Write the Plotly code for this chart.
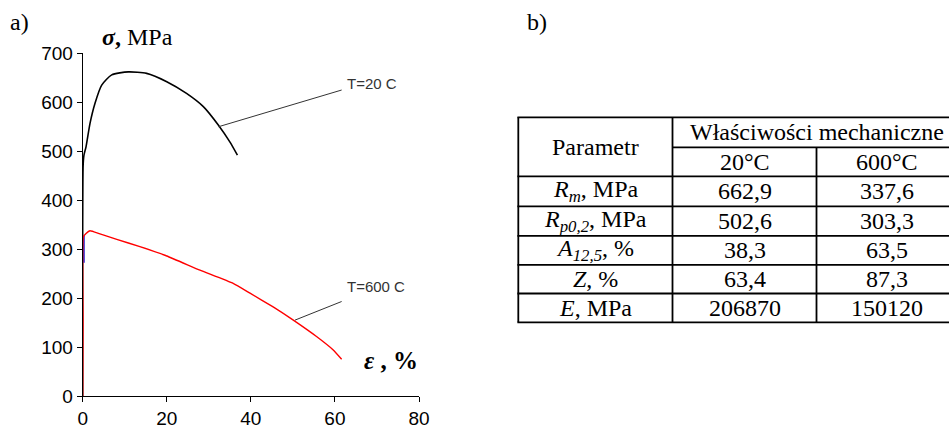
import plotly.graph_objects as go

W, H = 949, 432

# ---------------- data ----------------
strain_20 = [0, 0.1, 0.3, 0.79, 1.74, 2.93, 4.52, 6.9, 10.85, 15.2, 20.0, 24.7, 28.7, 32.3, 35.0, 36.8]
stress_20 = [0, 470, 492, 509, 557, 598, 635, 656, 662, 659, 642, 618, 591, 553, 519, 492]

strain_blue = [0.3, 0.3]
stress_blue = [272, 328]

strain_600 = [0, 0.08, 0.15, 0.8, 1.74, 4.1, 8.1, 13.6, 20.0, 27.9, 35.8, 39.8, 45.3, 50.1, 55.7, 59.6, 61.6]
stress_600 = [0, 150, 325, 332, 337.6, 331, 320, 305, 286, 257, 230, 210, 182, 155, 121, 94, 75]

label_20 = "T=20 C"
label_20_pos = (62.4, 639)
leader_20 = [(61.6, 625), (32.3, 550)]
label_600 = "T=600 C"
label_600_pos = (62.4, 223)
leader_600 = [(61.6, 193), (50.5, 155)]

x_ticks = [0, 20, 40, 60, 80]
y_ticks = [0, 100, 200, 300, 400, 500, 600, 700]

table_header_param = "Parametr"
table_header_group = "Właściwości mechaniczne"
table_temps = ["20°C", "600°C"]
table_params = ["<i>R<sub>m</sub></i>, MPa", "<i>R<sub>p0,2</sub></i>, MPa",
                "<i>A<sub>12,5</sub></i>, %", "<i>Z</i>, %", "<i>E</i>, MPa"]
values_20 = ["662,9", "502,6", "38,3", "63,4", "206870"]
values_600 = ["337,6", "303,3", "63,5", "87,3", "150120"]

# ---------------- helpers (pixel -> paper) ----------------
def px(x):
    return x / W

def py(y):
    return 1 - y / H

fig = go.Figure()
fig.add_trace(go.Scatter(x=strain_20, y=stress_20, mode="lines",
                         line=dict(color="#000000", width=1.6, shape="spline", smoothing=0.6),
                         hoverinfo="skip"))
fig.add_trace(go.Scatter(x=strain_blue, y=stress_blue, mode="lines",
                         line=dict(color="#2020d0", width=1.6), hoverinfo="skip"))
fig.add_trace(go.Scatter(x=strain_600, y=stress_600, mode="lines",
                         line=dict(color="#ff0000", width=1.4, shape="spline", smoothing=0.4),
                         hoverinfo="skip"))

x0p, x1p = 82.7, 419.0
y0p, y1p = 396.0, 53.3

axis_common = dict(showgrid=False, zeroline=False, showline=True, linecolor="#000000",
                   linewidth=1, ticks="outside", ticklen=5, tickcolor="#000000",
                   tickfont=dict(family="Liberation Sans, Arial", size=19, color="#000000"),
                   automargin=False)
fig.update_layout(
    width=W, height=H, margin=dict(l=0, r=0, t=0, b=0),
    paper_bgcolor="white", plot_bgcolor="white", showlegend=False,
    xaxis=dict(domain=[px(x0p), px(x1p)], range=[0, 80], tickvals=x_ticks, **axis_common),
    yaxis=dict(domain=[py(y0p), py(y1p)], range=[0, 700], tickvals=y_ticks, **axis_common),
)

shapes = []
annotations = []

# leader lines
for ld in (leader_20, leader_600):
    shapes.append(dict(type="line", xref="x", yref="y", x0=ld[0][0], y0=ld[0][1],
                       x1=ld[1][0], y1=ld[1][1], line=dict(color="#333333", width=1)))
for txt, pos in ((label_20, label_20_pos), (label_600, label_600_pos)):
    annotations.append(dict(text=txt, x=pos[0], y=pos[1], xref="x", yref="y",
                            xanchor="left", yanchor="middle", showarrow=False,
                            font=dict(family="Liberation Sans, Arial", size=15, color="#333333")))

serif = "Liberation Serif, Times New Roman"
def ptext(text, x, y, size=24, xanchor="center"):
    annotations.append(dict(text=text, x=px(x), y=py(y), xref="paper", yref="paper",
                            xanchor=xanchor, yanchor="middle", showarrow=False,
                            font=dict(family=serif, size=size, color="#000000")))

ptext("a)", 8, 22, xanchor="left")
ptext("b)", 525, 22, xanchor="left")
ptext("<b><i>σ</i>,</b> MPa", 100, 37, xanchor="left")
ptext("<b><i>ε</i> , %</b>", 362, 360, size=25, xanchor="left")

# table geometry (pixels)
tx_left, tx_c1, tx_c2, tx_right = 518.3, 672.5, 816.5, 960
row_lines = [117.3, 147.3, 176.3, 206.3, 235.8, 264.8, 293.5, 322.3]
lw = 1.8
def hline(x0, x1, y):
    shapes.append(dict(type="line", xref="paper", yref="paper", x0=px(x0), x1=px(x1),
                       y0=py(y), y1=py(y), line=dict(color="#000000", width=lw)))
def vline(x, y0, y1):
    shapes.append(dict(type="line", xref="paper", yref="paper", x0=px(x), x1=px(x),
                       y0=py(y0), y1=py(y1), line=dict(color="#000000", width=lw)))

for i, yl in enumerate(row_lines):
    if i == 1:
        hline(tx_c1, tx_right, yl)
    else:
        hline(tx_left - lw / 2, tx_right, yl)
vline(tx_left, row_lines[0], row_lines[-1])
vline(tx_c1, row_lines[0], row_lines[-1])
vline(tx_c2, row_lines[1], row_lines[-1])

c0 = (tx_left + tx_c1) / 2
c1 = (tx_c1 + tx_c2) / 2
c2 = 887
def mid(i):
    return (row_lines[i] + row_lines[i + 1]) / 2

ptext(table_header_param, c0, (row_lines[0] + row_lines[2]) / 2)
ptext(table_header_group, 817, mid(0))
ptext(table_temps[0], c1, mid(1))
ptext(table_temps[1], c2, mid(1))
for i, (p, v20, v600) in enumerate(zip(table_params, values_20, values_600)):
    ptext(p, c0, mid(i + 2))
    ptext(v20, c1, mid(i + 2))
    ptext(v600, c2, mid(i + 2))

fig.update_layout(shapes=shapes, annotations=annotations)
fig.write_html("out.html", config={"displayModeBar": False},
               post_script="document.body.style.margin='0';document.body.style.overflow='hidden';")
